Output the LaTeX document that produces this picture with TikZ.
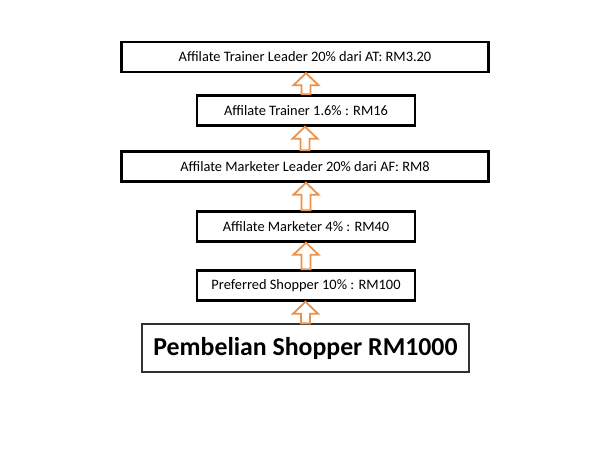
\documentclass[tikz,border=0pt]{standalone}
\usepackage{fontspec}
\setmainfont{Carlito}
\usetikzlibrary{calc}
\definecolor{arrorange}{RGB}{236,146,74}
\definecolor{boxgray}{RGB}{50,50,50}
\newcommand\blockup[2]{%
  \draw[barrow] let \p1=(#1.north), \p2=(#2.south) in
    (\x1-4.5pt,\y1) -- (\x1-4.5pt,\y2-12pt) -- (\x1-12.5pt,\y2-12pt) -- (\x1,\y2)
    -- (\x1+12.5pt,\y2-12pt) -- (\x1+4.5pt,\y2-12pt) -- (\x1+4.5pt,\y1) -- cycle;}
\begin{document}
\begin{tikzpicture}[x=1pt,y=-1pt,
  box/.style={draw, line width=2.4pt, minimum height=30pt, inner sep=0pt, fill=white,
    font=\fontsize{14.4}{16}\selectfont},
  bigbox/.style={draw=boxgray, line width=1.3pt, minimum height=48pt, minimum width=327pt,
    inner sep=0pt, fill=white, font=\fontsize{25.8}{30}\selectfont\bfseries},
  barrow/.style={draw=arrorange, line width=1.8pt, fill=white, line join=miter}]
\useasboundingbox[fill=white] (0,0) rectangle (600,449);
\node[box, minimum width=367pt] (b1) at (305,57) {Affilate Trainer Leader 20\% dari AT: RM3.20};
\node[box, minimum width=218pt] (b2) at (306,110.5) {Affilate Trainer 1.6\% : RM16};
\node[box, minimum width=367pt] (b3) at (305,166.5) {Affilate Marketer Leader 20\% dari AF: RM8};
\node[box, minimum width=218pt] (b4) at (306,226.5) {Affilate Marketer 4\% : RM40};
\node[box, minimum width=218pt] (b5) at (306,285.5) {Preferred Shopper 10\% : RM100};
\node[bigbox] (b6) at (305.5,348) {Pembelian Shopper RM1000};
\blockup{b2}{b1}
\blockup{b3}{b2}
\blockup{b4}{b3}
\blockup{b5}{b4}
\blockup{b6}{b5}
\end{tikzpicture}
\end{document}
